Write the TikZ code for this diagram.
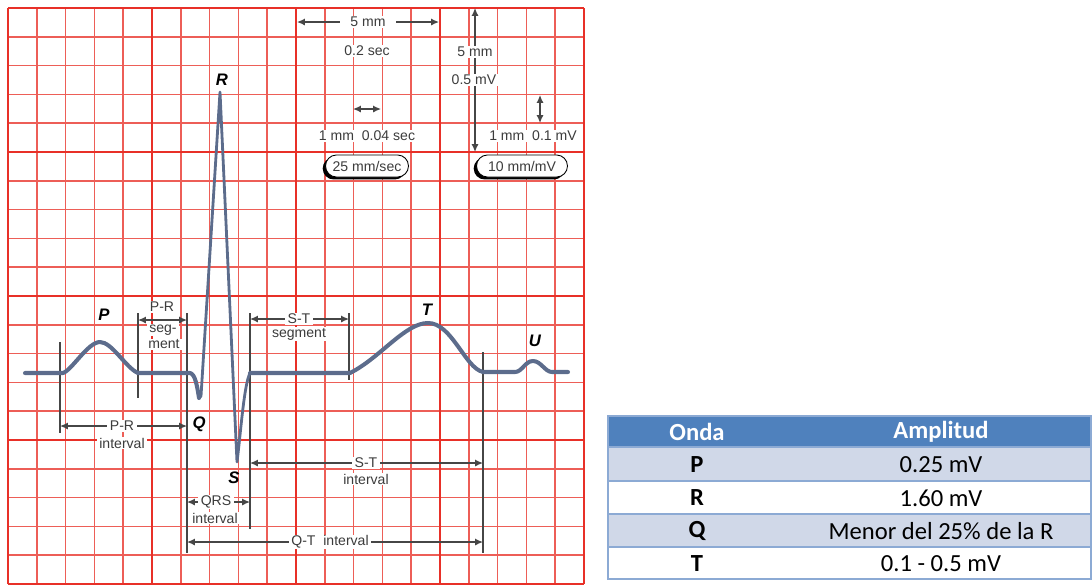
\documentclass[tikz,border=0pt]{standalone}
\usepackage{fontspec}
\newfontfamily\ecgfont{Liberation Sans}
\newfontfamily\tablefont{Carlito}
\usetikzlibrary{arrows.meta,shadows}
\definecolor{gridred}{RGB}{232,48,40}
\definecolor{tracecol}{RGB}{92,108,140}
\definecolor{markgray}{RGB}{70,70,70}
\definecolor{textgray}{RGB}{60,60,60}
\definecolor{headblue}{RGB}{79,129,189}
\definecolor{rowblue}{RGB}{208,216,232}
\definecolor{edgeblue}{RGB}{140,170,212}

\begin{document}
\begin{tikzpicture}[x=0.02cm,y=-0.02cm]

\tikzset{minorline/.style={draw=gridred!78, line width=1pt}}
\tikzset{majorline/.style={draw=gridred, line width=1.6pt}}
\tikzset{wave/.style={draw=tracecol, line width=2.3pt, line join=round, line cap=round}}
\tikzset{spike/.style={draw=tracecol, line width=1.6pt, line join=round, line cap=round}}
\tikzset{marker/.style={draw=markgray, line width=0.8pt}}
\tikzset{dimarrow/.style={draw=markgray, line width=0.7pt, <->, >={Latex[length=4.5pt,width=4pt]}}}
\tikzset{lbl/.style={fill=white, inner xsep=1.5pt, inner ysep=0.5pt, text=textgray, font=\ecgfont\fontsize{8}{9}\selectfont}}
\tikzset{wavename/.style={inner sep=1pt, font=\ecgfont\bfseries\itshape\fontsize{9.5}{10}\selectfont}}
\tikzset{pill/.style={draw=black, fill=white, line width=0.5pt, rounded corners=0.22cm, minimum height=0.44cm, inner xsep=2pt, text=textgray, font=\ecgfont\fontsize{8}{9}\selectfont, drop shadow={shadow xshift=-1.6pt, shadow yshift=-1.4pt, fill=black, opacity=1}}}
\tikzset{tablerow/.style={draw=edgeblue, line width=1.1pt}}
\tikzset{headtext/.style={text=white, font=\tablefont\bfseries\fontsize{14}{16}\selectfont}}
\tikzset{celltext/.style={text=black, font=\tablefont\fontsize{14}{16}\selectfont}}
\tikzset{cellbold/.style={text=black, font=\tablefont\bfseries\fontsize{14}{16}\selectfont}}

\useasboundingbox (0,0) rectangle (1092,586);

% paper grid
\foreach \i in {0,...,20} {
  \draw[minorline] (8+28.8*\i,8) -- (8+28.8*\i,584);
  \draw[minorline] (8,8+28.8*\i) -- (584,8+28.8*\i);
}
\foreach \i in {0,5,10,15,20} {
  \draw[majorline] (8+28.8*\i,8) -- (8+28.8*\i,584);
  \draw[majorline] (8,8+28.8*\i) -- (584,8+28.8*\i);
}

% interval markers
\draw[marker] (60,342) -- (60,433);
\draw[marker] (138,313) -- (138,398);
\draw[marker] (187,313) -- (187,553);
\draw[marker] (250,313) -- (250,529);
\draw[marker] (349,313) -- (349,380);
\draw[marker] (483,352) -- (483,553);

% trace
\draw[wave] (25,373) -- (63,373) .. controls (72,370) and (88,342) .. (100,342)
  .. controls (112,342) and (126,368) .. (138,373) -- (190,373)
  .. controls (195,374) and (197,385) .. (199,398);
\draw[spike] (199,398) -- (201,396) -- (220,92) -- (237,462)
  .. controls (241,430) and (244,385) .. (250,373);
\draw[wave] (250,373) -- (350,373) .. controls (380,358) and (405,323) .. (428,323)
  .. controls (452,323) and (465,368) .. (483,372) -- (515,372)
  .. controls (522,372) and (525,361) .. (533,361)
  .. controls (541,361) and (545,372) .. (552,372) -- (568,372);

\node[wavename] (nameR) at (222,80) {R};
\node[wavename] (nameP) at (104,315) {P};
\node[wavename] (nameQ) at (199,424) {Q};
\node[wavename] (nameS) at (234,478) {S};
\node[wavename] (nameT) at (427,310) {T};
\node[wavename] (nameU) at (535,341) {U};

% interval arrows
\coordinate (printL) at (60,426);
\coordinate (printR) at (187,426);
\coordinate (prsegL) at (138,320);
\coordinate (prsegR) at (187,320);
\coordinate (stsegL) at (250,319);
\coordinate (stsegR) at (349,319);
\coordinate (stintL) at (250,463);
\coordinate (stintR) at (483,463);
\coordinate (qrsL) at (187,502);
\coordinate (qrsR) at (250,502);
\coordinate (qtL) at (187,542);
\coordinate (qtR) at (483,542);

\draw[dimarrow] (printL) -- (printR);
\draw[dimarrow] (prsegL) -- (prsegR);
\draw[dimarrow] (stsegL) -- (stsegR);
\draw[dimarrow] (stintL) -- (stintR);
\draw[dimarrow] (qrsL) -- (qrsR);
\draw[dimarrow] (qtL) -- (qtR);

\node[lbl] (print) at (122,426) {P-R};
\node[lbl] (printtext) at (122,443) {interval};
\node[lbl] (prseg) at (162,307) {P-R};
\node[lbl] (prsegtext) at (163,330) {seg-};
\node[lbl] (prsegtextb) at (164,344) {ment};
\node[lbl] (stseg) at (299,319) {S-T};
\node[lbl] (stsegtext) at (299,334) {segment};
\node[lbl] (stint) at (366,463) {S-T};
\node[lbl] (stinttext) at (366,479) {interval};
\node[lbl] (qrs) at (216,502) {QRS};
\node[lbl] (qrstext) at (215,518) {interval};
\node[lbl] (qt) at (330,542) {Q-T\ \ interval};

% scale legend
\coordinate (timeL) at (297,22);
\coordinate (timeR) at (439,22);
\coordinate (tickL) at (353,109);
\coordinate (tickR) at (381,109);
\coordinate (voltT) at (475,8);
\coordinate (voltB) at (475,152);
\coordinate (stepT) at (540,95);
\coordinate (stepB) at (540,123);

\draw[dimarrow] (timeL) -- (timeR);
\draw[dimarrow] (tickL) -- (tickR);
\draw[dimarrow] (voltT) -- (voltB);
\draw[dimarrow] (stepT) -- (stepB);

\node[lbl, inner xsep=6pt] (timemm) at (368,22) {5 mm};
\node[lbl] (timesec) at (367,51) {0.2 sec};
\node[lbl] (ticktext) at (367,136) {1 mm\ \ 0.04 sec};
\node[lbl] (voltmm) at (475,52) {5 mm};
\node[lbl] (voltmv) at (474,80) {0.5 mV};
\node[lbl] (steptext) at (533,136) {1 mm\ \ 0.1 mV};

\node[pill, minimum width=1.66cm] (speed) at (367,166) {25 mm/sec};
\node[pill, minimum width=1.82cm] (gain) at (522,166) {10 mm/mV};

% amplitude table
\filldraw[tablerow, fill=headblue] (608,416) rectangle (1091,447);
\filldraw[tablerow, fill=rowblue] (608,447) rectangle (1091,481);
\filldraw[tablerow, fill=white] (608,481) rectangle (1091,514);
\filldraw[tablerow, fill=rowblue] (608,514) rectangle (1091,547);
\filldraw[tablerow, fill=white] (608,547) rectangle (1091,579);

\node[headtext] (onda) at (697,432) {Onda};
\node[headtext] (amplitud) at (941,432) {Amplitud};
\node[cellbold] (ondaP) at (697,465) {P};
\node[cellbold] (ondaR) at (697,498) {R};
\node[cellbold] (ondaQ) at (697,531) {Q};
\node[cellbold] (ondaT) at (697,564) {T};
\node[celltext] (ampP) at (941,465) {0.25 mV};
\node[celltext] (ampR) at (941,498) {1.60 mV};
\node[celltext] (ampQ) at (941,531) {Menor del 25\% de la R};
\node[celltext] (ampT) at (941,564) {0.1 - 0.5 mV};

\end{tikzpicture}
\end{document}
